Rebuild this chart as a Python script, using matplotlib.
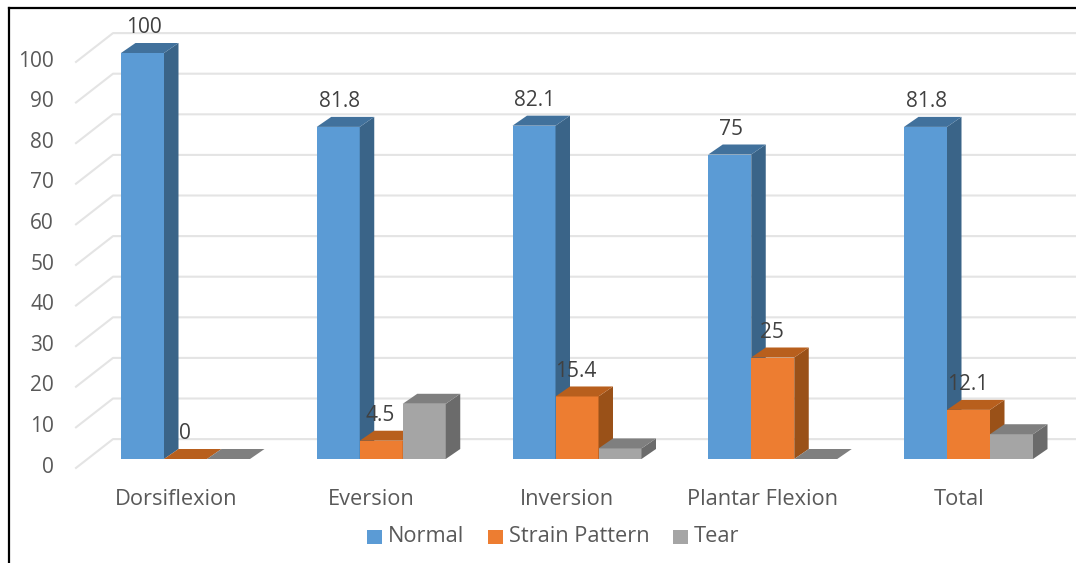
import matplotlib
matplotlib.use("Agg")
import matplotlib.pyplot as plt
from matplotlib.patches import Polygon, Rectangle

categories = ["Dorsiflexion", "Eversion", "Inversion", "Plantar Flexion", "Total"]
series_names = ["Normal", "Strain Pattern", "Tear"]
normal = [100, 81.8, 82.1, 75, 81.8]
strain = [0, 4.5, 15.4, 25, 12.1]
tear = [0, 13.6, 2.6, 0, 6.1]
y_ticks = [0, 10, 20, 30, 40, 50, 60, 70, 80, 90, 100]

front_colors = ["#5b9bd5", "#ed7d31", "#a5a5a5"]
side_colors = ["#3a6488", "#9a5118", "#6b6b6b"]
top_colors = ["#41719c", "#b85f1d", "#7f7f7f"]
text_color = "#595959"

plt.rcParams["font.family"] = ["Open Sans", "DejaVu Sans"]

W, H = 1076, 563
BASE_Y = 459          # pixel row of value 0 on the front plane
PX_PER_UNIT = 4.06
GROUP_STEP = 195.75
FIRST_CENTER = 185.5
BAR_W = 43 / GROUP_STEP
DX = 14.5 / GROUP_STEP
DY = 10 / PX_PER_UNIT


def px_to_x(px):
    return (px - FIRST_CENTER) / GROUP_STEP


def draw_bar(ax, x, value, i):
    ax.bar(x, value, BAR_W, align="edge", color=front_colors[i], linewidth=0, zorder=3 + x)
    right = x + BAR_W
    side = [(right, 0), (right + DX, DY), (right + DX, value + DY), (right, value)]
    top = [(x, value), (x + DX, value + DY), (right + DX, value + DY), (right, value)]
    ax.add_patch(Polygon(side, color=side_colors[i], linewidth=0, zorder=3 + x))
    ax.add_patch(Polygon(top, color=top_colors[i], linewidth=0, zorder=3 + x))


fig = plt.figure(figsize=(W / 100, H / 100), dpi=100)
ax = fig.add_axes([0, 0, 1, 1])
ax.set_xlim(px_to_x(0), px_to_x(W))
ax.set_ylim((BASE_Y - H) / PX_PER_UNIT, BASE_Y / PX_PER_UNIT)
ax.axis("off")

# back wall gridlines and the slanted side lines
for v in y_ticks:
    ax.plot([px_to_x(76), px_to_x(113), px_to_x(W)], [v - 2.2, v + 4.9, v + 4.9],
            color="#e4e4e4", lw=1.5, zorder=1)
    ax.text(px_to_x(54), v - 2.0, str(v), ha="right", va="center",
            fontsize=15, color=text_color)

for c, group in enumerate(zip(normal, strain, tear)):
    left = c - 1.5 * BAR_W
    for i, value in enumerate(group):
        draw_bar(ax, left + i * BAR_W, value, i)
    ax.text(c - 0.05, -10.0, categories[c], ha="center", va="center", fontsize=15.7, color=text_color)

# value labels sit over the bars
for c in range(len(categories)):
    ax.text(c - 1.5 * BAR_W + 0.115, normal[c] + 6.2, f"{normal[c]:g}", ha="center", va="center",
            fontsize=15, color="#404040", zorder=20)
    ax.text(c - 0.5 * BAR_W + 0.105, strain[c] + 6.2, f"{strain[c]:g}", ha="center", va="center",
            fontsize=15, color="#404040", zorder=20)

# legend drawn in data units so it stays on the same scale
legend_y = -19.2
legend_x = [367, 488, 673]
for name, color, px in zip(series_names, front_colors, legend_x):
    x0 = px_to_x(px)
    ax.add_patch(Rectangle((x0, legend_y - 1.8), 15 / GROUP_STEP, 3.6, color=color, linewidth=0))
    ax.text(px_to_x(px + 21), legend_y, name, ha="left", va="center", fontsize=15.7, color=text_color)

# frame around the chart
frame_top = (BASE_Y - 8) / PX_PER_UNIT
ax.plot([px_to_x(8.5), px_to_x(8.5)], [(BASE_Y - H) / PX_PER_UNIT, frame_top], color="black", lw=1.6, zorder=30)
ax.plot([px_to_x(8.5), px_to_x(W)], [frame_top, frame_top], color="black", lw=1.6, zorder=30)

fig.savefig("out.png", dpi=100)
